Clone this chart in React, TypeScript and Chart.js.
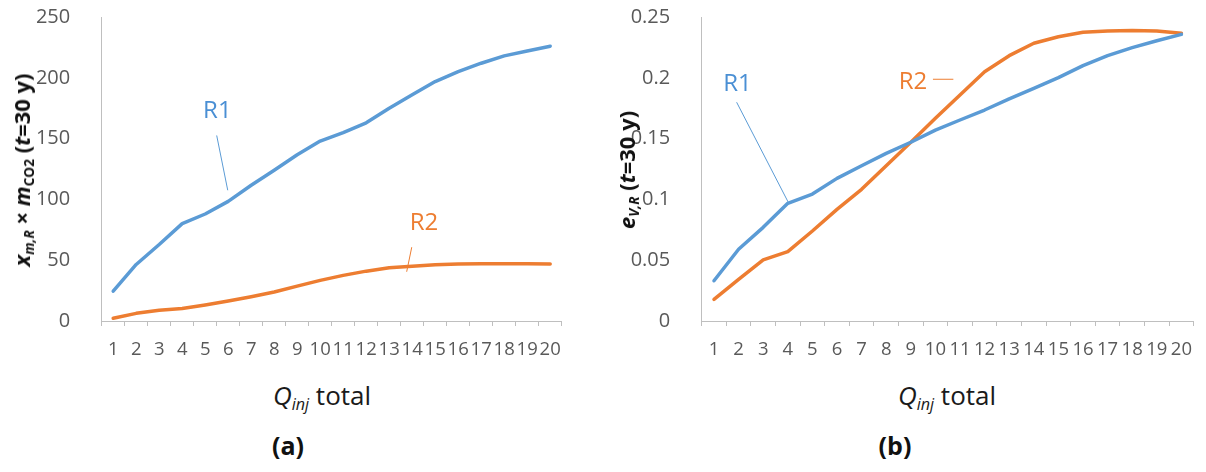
import React, { useEffect, useRef } from "react";
import { Chart, registerables } from "chart.js";

Chart.register(...registerables);

const FONT = "'Open Sans', 'DejaVu Sans', sans-serif";

// ---------- data ----------
const categories = ["1", "2", "3", "4", "5", "6", "7", "8", "9", "10", "11", "12", "13", "14", "15", "16", "17", "18", "19", "20"];

// panel (a): x_m,R × m_CO2 (t = 30 y)
const xmR1 = [24.6, 46.5, 62.9, 80.1, 88.0, 98.4, 111.6, 123.9, 136.7, 148.0, 155.0, 163.0, 175.0, 186.0, 196.9, 205.0, 212.0, 218.0, 222.0, 226.0];
const xmR2 = [2.2, 6.3, 8.8, 10.2, 13.1, 16.4, 20.0, 23.8, 28.7, 33.4, 37.5, 41.0, 43.8, 45.1, 46.3, 46.8, 47.0, 47.0, 47.0, 46.8];

// panel (b): e_V,R (t = 30 y)
const evR1 = [0.0331, 0.059, 0.077, 0.0968, 0.1044, 0.1173, 0.1277, 0.1379, 0.147, 0.157, 0.1653, 0.1735, 0.1826, 0.1913, 0.2001, 0.21, 0.2182, 0.2248, 0.2305, 0.2357];
const evR2 = [0.0178, 0.0343, 0.0502, 0.057, 0.074, 0.0918, 0.1083, 0.1277, 0.147, 0.1667, 0.1859, 0.205, 0.2182, 0.2284, 0.2338, 0.2374, 0.2385, 0.2388, 0.2385, 0.2366];

const yTicksA = ["0", "50", "100", "150", "200", "250"];
const yTicksB = ["0", "0.05", "0.1", "0.15", "0.2", "0.25"];

const BLUE = "#5B9BD5";
const ORANGE = "#ED7D31";
const BLUE_TEXT = "#4A8FD4";

type Callout = {
  text: string;
  color: string;
  textColor: string;
  at: [number, number];
  from: [number, number];
  to: [number, number];
};

// callout positions in data coordinates (category index, value)
const calloutsA: Callout[] = [
  { text: "R1", color: BLUE, textColor: BLUE_TEXT, at: [4.53, 172.8], from: [4.5, 152.6], to: [4.98, 107.5] },
  { text: "R2", color: ORANGE, textColor: ORANGE, at: [13.51, 80.2], from: [12.98, 60.7], to: [12.76, 40.5] },
];
const calloutsB: Callout[] = [
  { text: "R1", color: BLUE, textColor: BLUE_TEXT, at: [0.955, 0.1949], from: [0.92, 0.1799], to: [3.02, 0.0976] },
  { text: "R2", color: ORANGE, textColor: ORANGE, at: [8.09, 0.1965], from: [8.9, 0.1988], to: [9.73, 0.1988] },
];

const AREA_TOP = 17;
const AREA_BOTTOM = 321;
const Y_AXIS_X = 101.7;

function makeCalloutPlugin(items: Callout[]) {
  return {
    id: "callouts",
    afterDatasetsDraw(chart: any) {
      const xs = chart.scales.x;
      const ys = chart.scales.y;
      const ctx = chart.ctx as CanvasRenderingContext2D;
      ctx.save();
      for (const c of items) {
        ctx.strokeStyle = c.color;
        ctx.lineWidth = 1;
        ctx.beginPath();
        ctx.moveTo(xs.getPixelForValue(c.from[0]), ys.getPixelForValue(c.from[1]));
        ctx.lineTo(xs.getPixelForValue(c.to[0]), ys.getPixelForValue(c.to[1]));
        ctx.stroke();
        ctx.fillStyle = c.textColor;
        ctx.font = `24px ${FONT}`;
        ctx.textAlign = "center";
        ctx.textBaseline = "middle";
        ctx.fillText(c.text, xs.getPixelForValue(c.at[0]), ys.getPixelForValue(c.at[1]));
      }
      ctx.restore();
    },
  };
}

type PanelProps = {
  left: number;
  width: number;
  height: number;
  rightEdge: number;
  yMax: number;
  yStep: number;
  yLabels: string[];
  r1: number[];
  r2: number[];
  callouts: Callout[];
};

function Panel({ left, width, height, rightEdge, yMax, yStep, yLabels, r1, r2, callouts }: PanelProps) {
  const ref = useRef<HTMLCanvasElement>(null);
  useEffect(() => {
    const chart = new Chart(ref.current as HTMLCanvasElement, {
      type: "line",
      data: {
        labels: categories,
        datasets: [
          { label: "R1", data: r1, borderColor: BLUE, borderWidth: 3.5, pointRadius: 0, tension: 0, fill: false, borderCapStyle: "round", borderJoinStyle: "round" },
          { label: "R2", data: r2, borderColor: ORANGE, borderWidth: 3.5, pointRadius: 0, tension: 0, fill: false, borderCapStyle: "round", borderJoinStyle: "round" },
        ],
      },
      options: {
        responsive: false,
        animation: false,
        devicePixelRatio: 1,
        layout: { padding: { left: 0, top: AREA_TOP, right: width - rightEdge, bottom: 0 } },
        plugins: { legend: { display: false }, tooltip: { enabled: false } },
        scales: {
          x: {
            type: "category",
            offset: true,
            grid: { display: true, offset: true, drawOnChartArea: false, drawTicks: true, tickLength: 5, color: "#BFBFBF", lineWidth: 1 },
            border: { display: true, color: "#BFBFBF", width: 1 },
            ticks: { autoSkip: false, maxRotation: 0, minRotation: 0, padding: 13, color: "#595959", font: { family: FONT, size: 18.5 } },
            afterFit: (s: any) => {
              s.height = height - AREA_BOTTOM;
              s.paddingLeft = 0;
              s.paddingRight = 0;
            },
          },
          y: {
            type: "linear",
            min: 0,
            max: yMax,
            grid: { display: false },
            border: { display: true, color: "#BFBFBF", width: 1 },
            ticks: {
              stepSize: yStep,
              padding: 23.5,
              color: "#595959",
              font: { family: FONT, size: 20 },
              callback: (_v: any, i: number) => yLabels[i],
            },
            afterFit: (s: any) => {
              s.width = Y_AXIS_X;
              s.paddingTop = 0;
              s.paddingBottom = 0;
            },
          },
        },
      } as any,
      plugins: [makeCalloutPlugin(callouts)],
    });
    return () => chart.destroy();
  }, []);
  return (
    <canvas
      ref={ref}
      width={width}
      height={height}
      style={{ position: "absolute", left, top: 0, width, height }}
    />
  );
}

const subStyle: React.CSSProperties = { fontSize: "0.62em", position: "relative", top: "0.32em" };

const yTitleStyle: React.CSSProperties = {
  position: "absolute",
  transform: "translate(-50%, -50%) rotate(-90deg)",
  whiteSpace: "nowrap",
  fontFamily: FONT,
  fontWeight: 700,
  fontSize: 22,
  lineHeight: 1,
  color: "#111",
};

const xTitleStyle: React.CSSProperties = {
  position: "absolute",
  transform: "translateX(-50%)",
  whiteSpace: "nowrap",
  fontFamily: FONT,
  fontSize: 26,
  lineHeight: 1,
  color: "#1a1a1a",
};

const capStyle: React.CSSProperties = {
  position: "absolute",
  transform: "translate(-50%, -50%)",
  whiteSpace: "nowrap",
  fontFamily: FONT,
  fontWeight: 700,
  fontSize: 25,
  lineHeight: 1,
  color: "#111",
};

export default function App() {
  return (
    <div style={{ position: "fixed", left: 0, top: 0, width: 1206, height: 472, background: "#fff", overflow: "hidden" }}>
      <Panel left={0} width={580} height={372} rightEdge={561.7} yMax={250} yStep={50} yLabels={yTicksA} r1={xmR1} r2={xmR2} callouts={calloutsA} />
      <Panel left={600} width={606} height={372} rightEdge={593.7} yMax={0.25} yStep={0.05} yLabels={yTicksB} r1={evR1} r2={evR2} callouts={calloutsB} />

      <div style={{ ...yTitleStyle, left: 21, top: 170 }}>
        <i>x</i>
        <span style={subStyle}><i>m,R</i></span>
        {" × "}
        <i>m</i>
        <span style={subStyle}>CO2</span>
        {" ("}
        <i>t</i>
        {"=30 y)"}
      </div>
      <div style={{ ...yTitleStyle, left: 626, top: 170 }}>
        <i>e</i>
        <span style={subStyle}><i>V,R</i></span>
        {" ("}
        <i>t</i>
        {"=30 y)"}
      </div>

      <div style={{ ...xTitleStyle, left: 322, top: 382 }}>
        <i>Q</i>
        <span style={subStyle}><i>inj</i></span>
        {" total"}
      </div>
      <div style={{ ...xTitleStyle, left: 947, top: 382 }}>
        <i>Q</i>
        <span style={subStyle}><i>inj</i></span>
        {" total"}
      </div>

      <div style={{ ...capStyle, left: 288, top: 445 }}>(a)</div>
      <div style={{ ...capStyle, left: 895, top: 445 }}>(b)</div>
    </div>
  );
}
